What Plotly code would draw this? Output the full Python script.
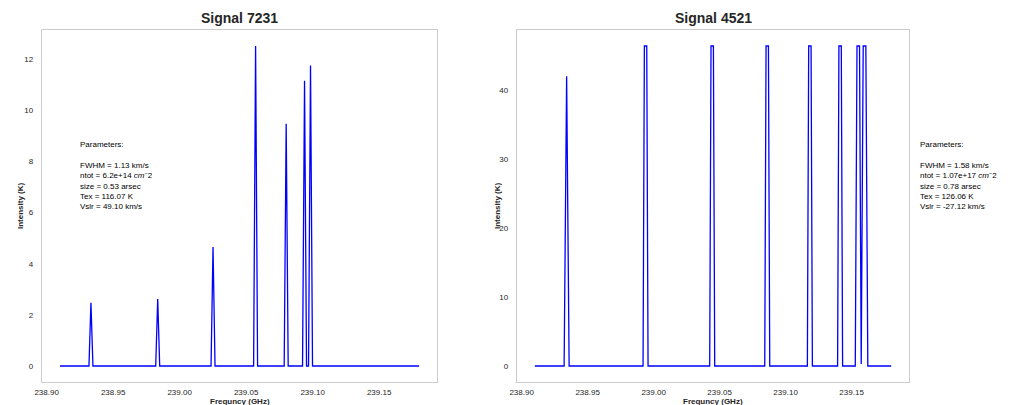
import plotly.graph_objects as go

# Spectrum polyline vertices (frequency in GHz, intensity in K)
left_freq = [238.910,
             238.9318, 238.9333, 238.9348,
             238.9820, 238.9835, 238.9850,
             239.0236, 239.0251, 239.0266,
             239.0556, 239.0571, 239.0586,
             239.0786, 239.0801, 239.0816,
             239.0924, 239.0939, 239.0954,
             239.0969, 239.0984, 239.0999,
             239.180]
left_intensity = [0,
                  0, 2.47, 0,
                  0, 2.62, 0,
                  0, 4.66, 0,
                  0, 12.52, 0,
                  0, 9.48, 0,
                  0, 11.16, 0,
                  0, 11.76, 0,
                  0]

right_freq = [238.910,
              238.9322, 238.9341, 238.9360,
              238.9920, 238.9930, 238.9948, 238.9958,
              239.0425, 239.0435, 239.0453, 239.0463,
              239.0842, 239.0852, 239.0870, 239.0880,
              239.1165, 239.1175, 239.1193, 239.1203,
              239.1394, 239.1404, 239.1422, 239.1432,
              239.1528, 239.1541, 239.1560, 239.1573, 239.1588, 239.1608, 239.1623,
              239.180]
right_intensity = [0,
                   0, 42.0, 0,
                   0, 46.4, 46.4, 0,
                   0, 46.4, 46.4, 0,
                   0, 46.4, 46.4, 0,
                   0, 46.4, 46.4, 0,
                   0, 46.4, 46.4, 0,
                   0, 46.4, 46.4, 0.3, 46.4, 46.4, 0,
                   0]

titles = ["Signal 7231", "Signal 4521"]
x_ticks = [238.90, 238.95, 239.00, 239.05, 239.10, 239.15]
left_y_ticks = [0, 2, 4, 6, 8, 10, 12]
right_y_ticks = [0, 10, 20, 30, 40]

left_params = ("Parameters:<br><br>FWHM = 1.13 km/s<br>"
               "ntot = 6.2e+14 <i>cm</i><sup>−</sup>2<br>"
               "size = 0.53 arsec<br>Tex = 116.07 K<br>Vslr = 49.10 km/s")
right_params = ("Parameters:<br><br>FWHM = 1.58 km/s<br>"
                "ntot = 1.07e+17 <i>cm</i><sup>−</sup>2<br>"
                "size = 0.78 arsec<br>Tex = 126.06 K<br>Vslr = -27.12 km/s")

W, H = 1030, 405
FONT = "Liberation Sans, Arial, sans-serif"
TICK_COLOR = "#262626"
EDGE = "#cccccc"


def px_x(p):
    return p / W


def px_y(p):
    return (H - p) / H


fig = go.Figure()
fig.add_trace(go.Scatter(x=left_freq, y=left_intensity, mode="lines",
                         line=dict(color="#0000ff", width=1.3),
                         xaxis="x", yaxis="y", showlegend=False))
fig.add_trace(go.Scatter(x=right_freq, y=right_intensity, mode="lines",
                         line=dict(color="#0000ff", width=1.3),
                         xaxis="x2", yaxis="y2", showlegend=False))

xmin, xmax = min(left_freq), max(left_freq)
xpad = 0.05 * (xmax - xmin)
lmax = max(left_intensity)
rmax = max(right_intensity)

axis_common = dict(showline=True, mirror=True, linecolor=EDGE, linewidth=1.25,
                   showgrid=False, zeroline=False, ticks="", automargin=False,
                   tickfont=dict(family=FONT, size=8, color=TICK_COLOR))

y_dom = [px_y(382), px_y(30)]
fig.update_layout(
    width=W, height=H,
    margin=dict(l=0, r=0, t=0, b=0),
    paper_bgcolor="white", plot_bgcolor="white",
    xaxis=dict(domain=[px_x(42), px_x(437)], range=[xmin - xpad, xmax + xpad],
               tickvals=x_ticks, ticktext=[f"{v:.2f}" for v in x_ticks],
               anchor="y", ticklabelstandoff=2, **axis_common),
    yaxis=dict(domain=y_dom, range=[-0.05 * lmax, 1.05 * lmax],
               tickvals=left_y_ticks, anchor="x", ticklabelstandoff=6, **axis_common),
    xaxis2=dict(domain=[px_x(517), px_x(909)], range=[xmin - xpad, xmax + xpad],
                tickvals=x_ticks, ticktext=[f"{v:.2f}" for v in x_ticks],
                anchor="y2", ticklabelstandoff=2, **axis_common),
    yaxis2=dict(domain=y_dom, range=[-0.05 * rmax, 1.05 * rmax],
                tickvals=right_y_ticks, anchor="x2", ticklabelstandoff=6, **axis_common),
)

label_font = dict(family=FONT, size=8, color=TICK_COLOR)
bold_label = "<b>%s</b>"
annotations = []
for cx, title, ytitle_x in [(239.5, titles[0], 20), (713, titles[1], 497)]:
    annotations.append(dict(text="<b>%s</b>" % title, x=px_x(cx), y=px_y(18),
                            xref="paper", yref="paper", showarrow=False,
                            xanchor="center", yanchor="middle",
                            font=dict(family=FONT, size=14, color=TICK_COLOR)))
    annotations.append(dict(text=bold_label % "Frequncy (GHz)", x=px_x(cx), y=px_y(401),
                            xref="paper", yref="paper", showarrow=False,
                            xanchor="center", yanchor="middle", font=label_font))
    annotations.append(dict(text=bold_label % "Intensity (K)", x=px_x(ytitle_x), y=px_y(206),
                            xref="paper", yref="paper", showarrow=False, textangle=-90,
                            xanchor="center", yanchor="middle", font=label_font))

for tx, txt in [(78, left_params), (918, right_params)]:
    annotations.append(dict(text=txt, x=px_x(tx), y=px_y(138),
                            xref="paper", yref="paper", showarrow=False,
                            xanchor="left", yanchor="top", align="left",
                            font=dict(family=FONT, size=8, color="black")))

fig.update_layout(annotations=annotations)
fig.write_html("out.html")
